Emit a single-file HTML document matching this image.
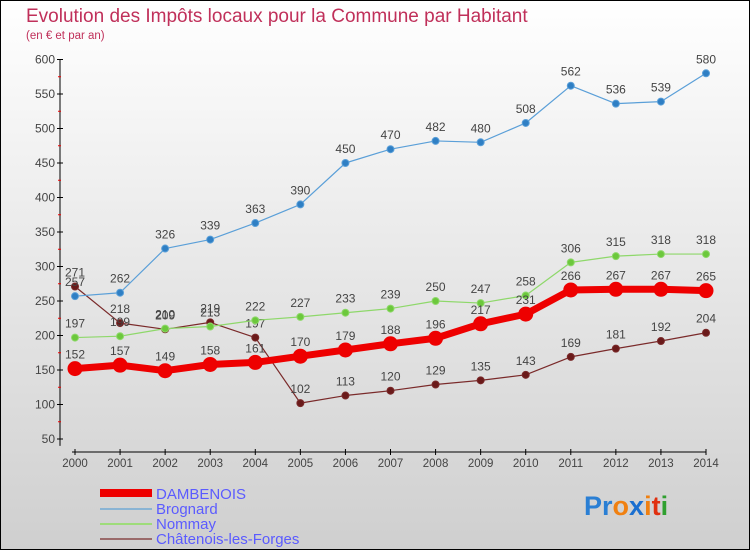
<!DOCTYPE html>
<html><head><meta charset="utf-8"><style>
body{margin:0;}
svg{display:block;font-family:"Liberation Sans",sans-serif;}
</style></head><body>
<svg id="chart" width="750" height="550" viewBox="0 0 750 550">
<defs><linearGradient id="bg" x1="0" y1="0" x2="0" y2="1"><stop offset="0" stop-color="#ffffff"/><stop offset="1" stop-color="#cfcfcf"/></linearGradient></defs>
<rect x="0.5" y="0.5" width="749" height="549" fill="url(#bg)" stroke="#000"/>
<text x="26" y="22" font-size="19" fill="#c0305a">Evolution des Impôts locaux pour la Commune par Habitant</text>
<text x="26" y="39" font-size="11.5" fill="#c0305a">(en € et par an)</text>
<g id="axes"></g>
<g id="series"></g>
<g id="legend">
<rect x="100" y="489" width="52" height="8" fill="#ee0000"/>
<text x="156" y="499" font-size="15" fill="#5b5bff">DAMBENOIS</text>
<line x1="100" y1="509" x2="152" y2="509" stroke="#8ab4d4" stroke-width="2"/>
<text x="156" y="514" font-size="15" fill="#5b5bff">Brognard</text>
<line x1="100" y1="524" x2="152" y2="524" stroke="#9edc7a" stroke-width="2"/>
<text x="156" y="529" font-size="15" fill="#5b5bff">Nommay</text>
<line x1="100" y1="539" x2="152" y2="539" stroke="#9a6a6a" stroke-width="2"/>
<text x="156" y="544" font-size="15" fill="#5b5bff">Châtenois-les-Forges</text>
</g>
<text x="584" y="515" font-size="27" font-weight="bold"><tspan fill="#2a7fd4">Pr</tspan><tspan fill="#f08010">o</tspan><tspan fill="#1a6fd0">x</tspan><tspan fill="#f08010">i</tspan><tspan fill="#e03010">t</tspan><tspan fill="#30a030">i</tspan></text>
</svg>
<script>
const years=[2000,2001,2002,2003,2004,2005,2006,2007,2008,2009,2010,2011,2012,2013,2014];
const yTicks=[50,100,150,200,250,300,350,400,450,500,550,600];
const dambenois=[152,157,149,158,161,170,179,188,196,217,231,266,267,267,265];
const brognard=[257,262,326,339,363,390,450,470,482,480,508,562,536,539,580];
const nommay=[197,199,210,213,222,227,233,239,250,247,258,306,315,318,318];
const chatenois=[271,218,209,219,197,102,113,120,129,135,143,169,181,192,204];
const NS="http://www.w3.org/2000/svg";
function xs(i){return 75+i*(706-75)/14;}
function ys(v){return 439-(v-50)*(439-59.5)/550;}
function mk(tag,attrs,parent){const e=document.createElementNS(NS,tag);for(const k in attrs)e.setAttribute(k,attrs[k]);parent.appendChild(e);return e;}
const ax=document.getElementById('axes');
const yl=mk('line',{x1:60,y1:ys(600),x2:60,y2:ys(40),stroke:'#000'},ax);


yTicks.forEach(v=>{
 mk('line',{x1:57,y1:ys(v),x2:63,y2:ys(v),stroke:'#000'},ax);
 const t=mk('text',{x:55,y:ys(v)+4,'font-size':12,fill:'#444','text-anchor':'end'},ax);
 t.textContent=v;
 
 
 if(v<600) mk('line',{x1:58,y1:ys(v+25),x2:61,y2:ys(v+25),stroke:'#e00'},ax);
});
const xl=mk('line',{x1:72,y1:452,x2:706,y2:452,stroke:'#000'},ax);


years.forEach((y,i)=>{
 mk('line',{x1:xs(i),y1:449,x2:xs(i),y2:455,stroke:'#000'},ax);
 const t=mk('text',{x:xs(i),y:467,'font-size':11.5,fill:'#444','text-anchor':'middle'},ax);
 t.textContent=y;
 
 
});
const sg=document.getElementById('series');
function draw(data,name,color,dot,lw,r){
 const g=mk('g',{},sg);
 
 
 const pl=mk('polyline',{points:data.map((v,i)=>xs(i)+','+ys(v)).join(' '),fill:'none',stroke:color,'stroke-width':lw,'stroke-linejoin':'round'},g);
 
 
 data.forEach((v,i)=>{
  const c=mk('circle',{cx:xs(i),cy:ys(v),r:r,fill:dot,stroke:color,'stroke-width':1},g);
  
  
  const t=mk('text',{x:xs(i),y:ys(v)-10,'font-size':12,fill:'#444','text-anchor':'middle'},g);
  t.textContent=v;
  
  
 });
}
draw(chatenois,'chatenois','#7a2a2a','#6a1a1a',1.2,3.5);
draw(nommay,'nommay','#8ed86a','#6cc83c',1.2,3.5);
draw(brognard,'brognard','#5a9fd8','#2f7fc4',1.2,3.5);
draw(dambenois,'dambenois','#ee0000','#ee0000',7,7);
</script>
</body></html>
